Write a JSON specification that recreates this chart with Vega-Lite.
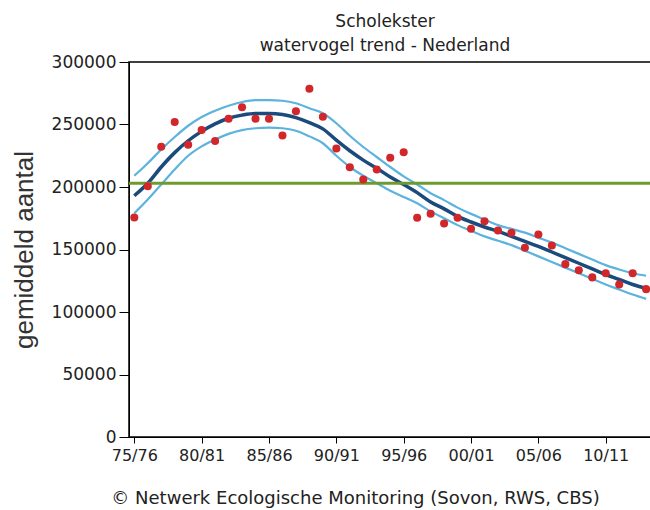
{
  "$schema": "https://vega.github.io/schema/vega-lite/v6.json",
  "width": 522,
  "height": 375,
  "autosize": {"type": "none"},
  "padding": {"left": 129, "top": 62, "right": 0, "bottom": 73},
  "background": "white",
  "title": {
    "text": "Scholekster",
    "subtitle": "watervogel trend - Nederland",
    "anchor": "middle",
    "dx": -5,
    "font": "DejaVu Sans",
    "fontSize": 17,
    "fontWeight": "normal",
    "color": "#222",
    "subtitleFont": "DejaVu Sans",
    "subtitleFontSize": 17,
    "subtitleColor": "#222",
    "subtitlePadding": 7,
    "offset": -2
  },
  "datasets": {
    "counts": [
      {"year": 1975, "count": 175600},
      {"year": 1976, "count": 200600},
      {"year": 1977, "count": 232200},
      {"year": 1978, "count": 252000},
      {"year": 1979, "count": 233800},
      {"year": 1980, "count": 245600},
      {"year": 1981, "count": 236800},
      {"year": 1982, "count": 254600},
      {"year": 1983, "count": 263800},
      {"year": 1984, "count": 254600},
      {"year": 1985, "count": 254600},
      {"year": 1986, "count": 241200},
      {"year": 1987, "count": 260600},
      {"year": 1988, "count": 278600},
      {"year": 1989, "count": 256200},
      {"year": 1990, "count": 230800},
      {"year": 1991, "count": 215800},
      {"year": 1992, "count": 206000},
      {"year": 1993, "count": 214000},
      {"year": 1994, "count": 223400},
      {"year": 1995, "count": 227800},
      {"year": 1996, "count": 175400},
      {"year": 1997, "count": 178600},
      {"year": 1998, "count": 170800},
      {"year": 1999, "count": 175400},
      {"year": 2000, "count": 166600},
      {"year": 2001, "count": 172600},
      {"year": 2002, "count": 165200},
      {"year": 2003, "count": 163400},
      {"year": 2004, "count": 151400},
      {"year": 2005, "count": 162000},
      {"year": 2006, "count": 153200},
      {"year": 2007, "count": 138300},
      {"year": 2008, "count": 133400},
      {"year": 2009, "count": 127700},
      {"year": 2010, "count": 131000},
      {"year": 2011, "count": 122000},
      {"year": 2012, "count": 131000},
      {"year": 2013, "count": 118300}
    ],
    "trend": [
      {"year": 1975, "trend": 193000, "lower": 179000, "upper": 209000},
      {"year": 1976, "trend": 203000, "lower": 190000, "upper": 219000},
      {"year": 1977, "trend": 216000, "lower": 202000, "upper": 230000},
      {"year": 1978, "trend": 227500, "lower": 214000, "upper": 240000},
      {"year": 1979, "trend": 237000, "lower": 225000, "upper": 249000},
      {"year": 1980, "trend": 244500, "lower": 232500, "upper": 256000},
      {"year": 1981, "trend": 250500, "lower": 238000, "upper": 261000},
      {"year": 1982, "trend": 255000, "lower": 242500, "upper": 265000},
      {"year": 1983, "trend": 257500, "lower": 245500, "upper": 268000},
      {"year": 1984, "trend": 258800, "lower": 247000, "upper": 269500},
      {"year": 1985, "trend": 258800, "lower": 247500, "upper": 269500},
      {"year": 1986, "trend": 258000, "lower": 247000, "upper": 269000},
      {"year": 1987, "trend": 255500, "lower": 245000, "upper": 267000},
      {"year": 1988, "trend": 251500, "lower": 240500, "upper": 263000},
      {"year": 1989, "trend": 246500, "lower": 235000, "upper": 259000},
      {"year": 1990, "trend": 237500, "lower": 225000, "upper": 251000},
      {"year": 1991, "trend": 229000, "lower": 216000, "upper": 241000},
      {"year": 1992, "trend": 221500, "lower": 209000, "upper": 232000},
      {"year": 1993, "trend": 215000, "lower": 203000, "upper": 224000},
      {"year": 1994, "trend": 208000, "lower": 197000, "upper": 216000},
      {"year": 1995, "trend": 202000, "lower": 192000, "upper": 208500},
      {"year": 1996, "trend": 195500, "lower": 187000, "upper": 202000},
      {"year": 1997, "trend": 188000, "lower": 180500, "upper": 195000},
      {"year": 1998, "trend": 182500, "lower": 175000, "upper": 189500},
      {"year": 1999, "trend": 176500, "lower": 169500, "upper": 183500},
      {"year": 2000, "trend": 172000, "lower": 165000, "upper": 178500},
      {"year": 2001, "trend": 168000, "lower": 160500, "upper": 174000},
      {"year": 2002, "trend": 164500, "lower": 157000, "upper": 169500},
      {"year": 2003, "trend": 160500, "lower": 153500, "upper": 166500},
      {"year": 2004, "trend": 156500, "lower": 149000, "upper": 163500},
      {"year": 2005, "trend": 152500, "lower": 144500, "upper": 159500},
      {"year": 2006, "trend": 148000, "lower": 140000, "upper": 155500},
      {"year": 2007, "trend": 143500, "lower": 135500, "upper": 151000},
      {"year": 2008, "trend": 139000, "lower": 131000, "upper": 146500},
      {"year": 2009, "trend": 134500, "lower": 126500, "upper": 142000},
      {"year": 2010, "trend": 130000, "lower": 122000, "upper": 137500},
      {"year": 2011, "trend": 126000, "lower": 118000, "upper": 134000},
      {"year": 2012, "trend": 122000, "lower": 114000, "upper": 131000},
      {"year": 2013, "trend": 119000, "lower": 110500, "upper": 129000}
    ],
    "reference": [{"level": 203000}]
  },
  "encoding": {
    "x": {
      "type": "quantitative",
      "scale": {"domain": [1974.607, 2013.36], "nice": false, "zero": false},
      "axis": {
        "title": "© Netwerk Ecologische Monitoring (Sovon, RWS, CBS)",
        "titleFont": "DejaVu Sans",
        "titleFontSize": 18,
        "titleFontWeight": "normal",
        "titleColor": "#222",
        "titleX": 226,
        "titleY": 66,
        "titleAnchor": "middle",
        "titleBaseline": "alphabetic",
        "values": [1975, 1980, 1985, 1990, 1995, 2000, 2005, 2010],
        "labelExpr": "substring(toString(datum.value), 2, 4) + '/' + substring(toString(datum.value + 1), 2, 4)",
        "labelFont": "DejaVu Sans",
        "labelFontSize": 16,
        "labelColor": "#222",
        "labelPadding": 4,
        "tickSize": 6,
        "tickColor": "#000",
        "domainColor": "#000",
        "grid": false,
        "labelFlush": false,
        "labelOverlap": false
      }
    },
    "y": {
      "type": "quantitative",
      "scale": {"domain": [0, 300000], "nice": false},
      "axis": {
        "title": "gemiddeld aantal",
        "titleFont": "Liberation Sans",
        "titleFontSize": 26,
        "titleFontWeight": "normal",
        "titleColor": "#333",
        "titlePadding": 14,
        "values": [0, 50000, 100000, 150000, 200000, 250000, 300000],
        "format": "d",
        "labelFont": "DejaVu Sans",
        "labelFontSize": 17,
        "labelColor": "#222",
        "labelPadding": 3,
        "tickSize": 10,
        "tickColor": "#000",
        "domainColor": "#000",
        "grid": false
      }
    }
  },
  "layer": [
    {
      "data": {"name": "trend"},
      "mark": {"type": "line", "interpolate": "monotone", "color": "#5bb3de", "strokeWidth": 2.2},
      "encoding": {"x": {"field": "year"}, "y": {"field": "upper"}}
    },
    {
      "data": {"name": "trend"},
      "mark": {"type": "line", "interpolate": "monotone", "color": "#5bb3de", "strokeWidth": 2.2},
      "encoding": {"x": {"field": "year"}, "y": {"field": "lower"}}
    },
    {
      "data": {"name": "trend"},
      "mark": {"type": "line", "interpolate": "monotone", "color": "#1b4a7c", "strokeWidth": 3.5},
      "encoding": {"x": {"field": "year"}, "y": {"field": "trend"}}
    },
    {
      "data": {"name": "reference"},
      "mark": {"type": "rule", "color": "#6f9a2e", "strokeWidth": 3},
      "encoding": {"y": {"field": "level"}}
    },
    {
      "data": {"name": "counts"},
      "mark": {"type": "circle", "color": "#d1272b", "opacity": 1, "size": 65},
      "encoding": {"x": {"field": "year"}, "y": {"field": "count"}}
    }
  ],
  "config": {
    "view": {"stroke": "#000", "strokeWidth": 1.5}
  }
}
